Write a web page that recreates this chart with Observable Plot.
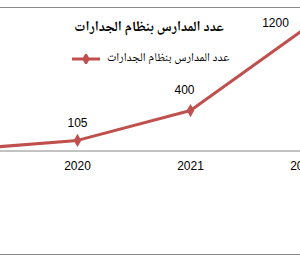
<!DOCTYPE html>
<html><head><meta charset="utf-8">
<script src="https://cdn.jsdelivr.net/npm/d3@7"></script>
<script src="https://cdn.jsdelivr.net/npm/@observablehq/plot@0.6"></script>
<style>
body{margin:0;background:#fff;}
#wrap{position:relative;width:300px;height:264px;overflow:hidden;background:#fff;}
.border{position:absolute;left:0;width:300px;height:0;border-top:1px solid #8a8a8a;}
#title{position:absolute;left:0;width:298px;top:13px;text-align:center;white-space:nowrap;color:#000;line-height:26px;}
#tt{display:inline-block;font:bold 14px "Noto Naskh Arabic","DejaVu Sans",sans-serif;}
#legend{position:absolute;left:72px;top:46px;height:26px;display:flex;align-items:center;white-space:nowrap;}
#lt{display:inline-block;font:12px "Noto Naskh Arabic","DejaVu Sans",sans-serif;margin-left:7px;color:#000;line-height:26px;}
#chart{position:absolute;left:0;top:0;}
</style></head>
<body>
<div id="wrap">
  <div class="border" style="top:7px"></div>
  <div class="border" style="top:254px"></div>
  <div id="chart"></div>
  <div id="title" dir="rtl"><span id="tt"></span></div>
  <div id="legend"></div>
</div>
<script>
const chartTitle = "عدد المدارس بنظام الجدارات";
const seriesName = "عدد المدارس بنظام الجدارات";
const years = ["2019", "2020", "2021", "2022"];
const schools = [15, 105, 400, 1200];
const lineColor = "#c0504d";

const data = years.map((y, i) => ({year: y, value: schools[i]}));

const plot = Plot.plot({
  width: 300,
  height: 264,
  marginTop: 9,
  marginBottom: 113.5,
  marginLeft: 0,
  marginRight: 0,
  style: {fontFamily: "'Liberation Sans', Arial, sans-serif", fontSize: "12px", color: "#000", background: "transparent"},
  x: {type: "point", domain: years, range: [-36, 303], padding: 0, axis: null},
  y: {domain: [0, 1400], axis: null},
  marks: [
    Plot.ruleY([0], {stroke: "#868686", strokeWidth: 1}),
    Plot.text(years.slice(1), {x: d => d, frameAnchor: "bottom", dy: 18.5, fill: "#000", fontSize: 12}),
    Plot.line(data, {x: "year", y: "value", stroke: lineColor, strokeWidth: 3}),
    Plot.dot(data, {x: "year", y: "value", symbol: "diamond", fill: lineColor, r: 4}),
    Plot.text(data, {filter: d => d.year === "2020", x: "year", y: "value", text: d => String(d.value), dy: -17, fill: "#000", fontSize: 12}),
    Plot.text(data, {filter: d => d.year === "2021", x: "year", y: "value", text: d => String(d.value), dx: -6, dy: -20, fill: "#000", fontSize: 12}),
    Plot.text(data, {filter: d => d.year === "2022", x: "year", y: "value", text: d => String(d.value), dx: -28, dy: -7, fill: "#000", fontSize: 12})
  ]
});
document.getElementById("chart").appendChild(plot);

document.getElementById("tt").textContent = chartTitle;

const leg = document.getElementById("legend");
const sw = d3.create("svg").attr("width", 28).attr("height", 10);
sw.append("line").attr("x1", 0).attr("x2", 28).attr("y1", 5).attr("y2", 5)
  .attr("stroke", lineColor).attr("stroke-width", 3);
sw.append("path").attr("d", d3.symbol(d3.symbolDiamond, 50)()).attr("transform", "translate(14,5)")
  .attr("fill", lineColor);
leg.appendChild(sw.node());
const lt = document.createElement("span");
lt.id = "lt";
lt.textContent = seriesName;
lt.setAttribute("dir", "rtl");
leg.appendChild(lt);
</script>
</body></html>
